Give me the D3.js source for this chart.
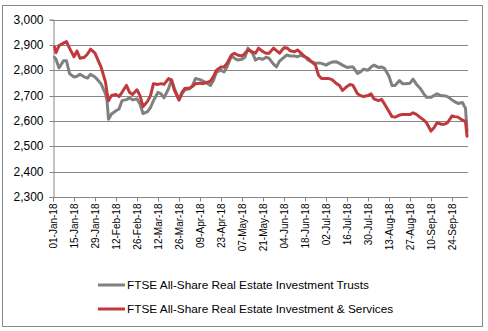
<!DOCTYPE html>
<html><head><meta charset="utf-8">
<script src="https://cdn.jsdelivr.net/npm/d3@7"></script>
<style>html,body{margin:0;padding:0;background:#fff;}svg{display:block;}</style>
</head><body>
<svg id="c" width="488" height="331"></svg>
<script>
const dates = ["2018-01-02","2018-01-03","2018-01-05","2018-01-08","2018-01-10","2018-01-12","2018-01-15","2018-01-17","2018-01-19","2018-01-22","2018-01-24","2018-01-26","2018-01-29","2018-01-31","2018-02-02","2018-02-05","2018-02-06","2018-02-07","2018-02-09","2018-02-12","2018-02-14","2018-02-16","2018-02-19","2018-02-21","2018-02-23","2018-02-26","2018-02-28","2018-03-02","2018-03-05","2018-03-07","2018-03-09","2018-03-12","2018-03-14","2018-03-16","2018-03-19","2018-03-21","2018-03-23","2018-03-26","2018-03-28","2018-03-30","2018-04-02","2018-04-04","2018-04-06","2018-04-09","2018-04-11","2018-04-13","2018-04-16","2018-04-18","2018-04-20","2018-04-23","2018-04-25","2018-04-27","2018-04-30","2018-05-02","2018-05-04","2018-05-07","2018-05-09","2018-05-11","2018-05-14","2018-05-16","2018-05-18","2018-05-21","2018-05-23","2018-05-25","2018-05-28","2018-05-30","2018-06-01","2018-06-04","2018-06-06","2018-06-08","2018-06-11","2018-06-13","2018-06-15","2018-06-18","2018-06-20","2018-06-22","2018-06-25","2018-06-27","2018-06-29","2018-07-02","2018-07-04","2018-07-06","2018-07-09","2018-07-11","2018-07-13","2018-07-16","2018-07-18","2018-07-20","2018-07-23","2018-07-25","2018-07-27","2018-07-30","2018-08-01","2018-08-03","2018-08-06","2018-08-08","2018-08-10","2018-08-13","2018-08-15","2018-08-17","2018-08-20","2018-08-22","2018-08-24","2018-08-27","2018-08-29","2018-08-31","2018-09-03","2018-09-05","2018-09-07","2018-09-10","2018-09-12","2018-09-14","2018-09-17","2018-09-19","2018-09-21","2018-09-24","2018-09-26","2018-09-28","2018-10-01","2018-10-02","2018-10-03","2018-10-04"];

const reitValues = [2851,2843,2809,2837,2837,2787,2773,2776,2784,2773,2769,2784,2773,2760,2747,2707,2680,2607,2627,2640,2647,2680,2684,2691,2683,2687,2667,2629,2637,2653,2680,2713,2707,2691,2727,2763,2727,2683,2707,2723,2727,2740,2767,2763,2757,2751,2740,2760,2793,2800,2793,2813,2856,2847,2840,2843,2851,2887,2867,2840,2847,2843,2851,2847,2824,2813,2836,2851,2860,2856,2856,2853,2859,2853,2840,2835,2827,2829,2827,2820,2827,2832,2833,2827,2820,2811,2813,2813,2787,2793,2804,2800,2813,2820,2811,2813,2807,2776,2740,2740,2759,2747,2747,2749,2765,2747,2727,2709,2693,2693,2700,2707,2699,2699,2696,2683,2675,2669,2673,2660,2651,2560];

const servicesValues = [2891,2869,2897,2907,2913,2887,2853,2876,2847,2851,2864,2883,2867,2840,2813,2753,2713,2680,2700,2704,2696,2713,2740,2713,2704,2723,2700,2656,2677,2700,2747,2744,2747,2744,2767,2760,2720,2683,2713,2729,2729,2736,2747,2749,2747,2751,2757,2776,2800,2813,2813,2827,2860,2867,2860,2856,2867,2880,2872,2867,2887,2873,2867,2867,2887,2877,2867,2889,2888,2877,2873,2880,2869,2853,2847,2835,2820,2780,2767,2767,2767,2763,2747,2740,2720,2736,2744,2740,2707,2700,2696,2700,2707,2687,2680,2685,2667,2637,2617,2615,2623,2625,2625,2625,2632,2627,2613,2604,2593,2560,2573,2593,2587,2587,2593,2620,2617,2615,2603,2600,2597,2540];

const seriesNames = ["FTSE All-Share Real Estate Investment Trusts","FTSE All-Share Real Estate Investment & Services"];
const seriesColors = ["#808080","#c0393d"];
const yTicks = [2300,2400,2500,2600,2700,2800,2900,3000];
const axisStart = "2018-01-01", axisEnd = "2018-10-04";

const parse = d3.timeParse("%Y-%m-%d");
const svg = d3.select("#c");
svg.append("rect").attr("x",2.5).attr("y",5.5).attr("width",480).attr("height",321)
  .attr("fill","#fff").attr("stroke","#888").attr("stroke-width",1);

const x = d3.scaleTime().domain([parse(axisStart), parse(axisEnd)]).range([53, 467]);
const y = d3.scaleLinear().domain([2300,3000]).range([197, 19.5]);

// gridlines
svg.append("g").selectAll("line").data(yTicks.slice(1)).join("line")
  .attr("x1",53).attr("x2",468).attr("y1",d=>Math.round(y(d))+0.5).attr("y2",d=>Math.round(y(d))+0.5)
  .attr("stroke","#868686").attr("stroke-width",1);

// y axis
const yAxis = svg.append("g").attr("transform","translate(53.5,0)")
  .call(d3.axisLeft(y).tickValues(yTicks).tickSize(4).tickPadding(6).tickFormat(d3.format(",")));
yAxis.select(".domain").attr("stroke","#868686");
yAxis.selectAll(".tick line").attr("stroke","#868686");
yAxis.selectAll(".tick").attr("transform",d=>`translate(0,${Math.round(y(d))+0.5})`);
yAxis.selectAll("text").attr("font-family","'Liberation Sans',Arial,sans-serif").attr("font-size",12).attr("fill","#000");

// x axis
const xTicks = d3.range(0, 20).map(i => d3.timeDay.offset(parse(axisStart), i*14));
const xAxis = svg.append("g").attr("transform","translate(0,197.5)")
  .call(d3.axisBottom(x).tickValues(xTicks).tickSize(4).tickFormat(d3.timeFormat("%d-%b-%y")));
xAxis.select(".domain").attr("stroke","#868686").attr("d","M53,0H468");
xAxis.selectAll(".tick line").attr("stroke","#868686");
xAxis.selectAll("text").attr("font-family","'Liberation Sans',Arial,sans-serif").attr("font-size",10).attr("fill","#000")
  .attr("transform","rotate(-90)").attr("text-anchor","end").attr("dy","0.35em").attr("x",-6).attr("y",0);

// lines
const pts = dates.map(parse);
const line = d3.line().x((d,i)=>x(pts[i])).y(d=>y(d)).curve(d3.curveLinear);
[reitValues, servicesValues].forEach((vals,k)=>{
  svg.append("path").attr("d",line(vals)).attr("fill","none")
    .attr("stroke",seriesColors[k]).attr("stroke-width",3).attr("stroke-linejoin","round").attr("stroke-linecap","round");
});

// legend
const lg = svg.append("g");
seriesNames.forEach((n,k)=>{
  const yy = 285 + k*24;
  lg.append("line").attr("x1",98).attr("x2",125).attr("y1",yy).attr("y2",yy)
    .attr("stroke",seriesColors[k]).attr("stroke-width",3);
  lg.append("text").attr("x",127).attr("y",yy).attr("dy","0.35em")
    .attr("font-family","'Liberation Sans',Arial,sans-serif").attr("font-size",11.8).attr("fill","#000").text(n);
});
</script>
</body></html>
